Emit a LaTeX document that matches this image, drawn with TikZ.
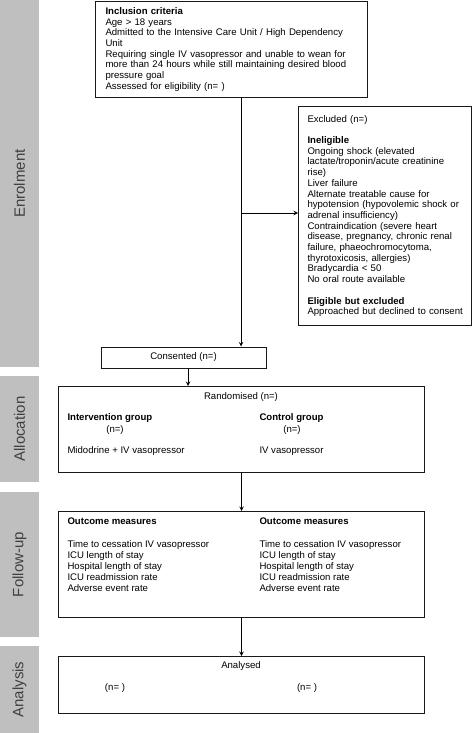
\documentclass[tikz,border=0pt]{standalone}
\usepackage{fontspec}
\setmainfont{Liberation Sans}
\usetikzlibrary{arrows, positioning}

\begin{document}
\begin{tikzpicture}[
        > = stealth, % arrow head style
        x = 1pt, y = -1pt, % one unit per pixel, y runs downwards
        line width = 1pt, % line style
        font = \fontsize{9.6}{10.7}\selectfont
    ]

    \tikzstyle{phase}=[
        fill = gray!50,
        text = black!75,
        rotate = 90,
        minimum height = 39pt,
        inner sep = 0pt,
        font = \fontsize{15}{16}\selectfont
    ]
    \tikzstyle{box}=[
        draw = black!90,
        rectangle,
        inner sep = 0pt
    ]
    \tikzstyle{txt}=[
        inner sep = 0pt,
        align = left
    ]

    \useasboundingbox (0,0) rectangle (473,733);

    % phase bars on the left
    \node[phase, minimum width = 367pt] (enrolbar) at (19.5,183.5) {Enrolment};
    \node[phase, minimum width = 106pt] (allocbar) at (19.5,429) {Allocation};
    \node[phase, minimum width = 145pt] (followbar) at (19.5,564.5) {Follow-up};
    \node[phase, minimum width = 87pt] (analbar) at (19.5,689.5) {Analysis};

    % enrolment
    \node[box, anchor = north west, text width = 252pt, inner xsep = 10pt,
          inner ysep = 6pt, align = left] (incl) at (95,1) {%
        \textbf{Inclusion criteria}\\
        Age > 18 years\\
        Admitted to the Intensive Care Unit / High Dependency\\
        Unit\\
        Requiring single IV vasopressor and unable to wean for\\
        more than 24 hours while still maintaining desired blood\\
        pressure goal\\
        Assessed for eligibility (n= )};

    \node[box, anchor = north west, text width = 155pt, inner xsep = 9pt,
          inner ysep = 7pt, minimum height = 219pt, align = left] (excl) at (298,106) {%
        Excluded (n=)\\[10.7pt]
        \textbf{Ineligible}\\
        Ongoing shock (elevated\\
        lactate/troponin/acute creatinine\\
        rise)\\
        Liver failure\\
        Alternate treatable cause for\\
        hypotension (hypovolemic shock or\\
        adrenal insufficiency)\\
        Contraindication (severe heart\\
        disease, pregnancy, chronic renal\\
        failure, phaeochromocytoma,\\
        thyrotoxicosis, allergies)\\
        Bradycardia < 50\\
        No oral route available\\[10.7pt]
        \textbf{Eligible but excluded}\\
        \mbox{Approached but declined to consent}};

    \node[box, minimum width = 165pt, minimum height = 21pt] (consent) at (183.5,357.5) {Consented (n=)};

    % allocation
    \node[box, anchor = north west, minimum width = 366pt, minimum height = 86pt] (rand) at (58,386) {};
    \node[txt] (randlbl) at (241,397) {Randomised (n=)};
    \node[txt, anchor = west] (intgrp) at (67,418) {\textbf{Intervention group}};
    \node[txt] (intn) at (115,430) {(n=)};
    \node[txt, anchor = west] (inttx) at (67,451) {Midodrine + IV vasopressor};
    \node[txt, anchor = west] (congrp) at (259,418) {\textbf{Control group}};
    \node[txt] (conn) at (292,430) {(n=)};
    \node[txt, anchor = west] (contx) at (259,451) {IV vasopressor};

    % follow-up
    \node[box, anchor = north west, minimum width = 366pt, minimum height = 106pt] (fu) at (58,511) {};
    \node[txt, anchor = north west, font = \fontsize{9.6}{11.2}\selectfont] (fuint) at (67,517.5) {%
        \textbf{Outcome measures}\\[11.2pt]
        Time to cessation IV vasopressor\\
        ICU length of stay\\
        Hospital length of stay\\
        ICU readmission rate\\
        Adverse event rate};
    \node[txt, anchor = north west, font = \fontsize{9.6}{11.2}\selectfont] (fucon) at (259,517.5) {%
        \textbf{Outcome measures}\\[11.2pt]
        Time to cessation IV vasopressor\\
        ICU length of stay\\
        Hospital length of stay\\
        ICU readmission rate\\
        Adverse event rate};

    % analysis
    \node[box, anchor = north west, minimum width = 366pt, minimum height = 57pt] (ana) at (58,656) {};
    \node[txt] (analbl) at (241,666) {Analysed};
    \node[txt] (anaint) at (115,688) {(n= )};
    \node[txt] (anacon) at (307,688) {(n= )};

    % connectors
    \coordinate (split) at (241,213);
    \draw (incl.south -| split) -- (split);
    \draw[->] (split) -- (split -| excl.west);
    \draw[->] (split) -- (split |- consent.north);
    \draw[->] ([xshift=4.5pt]consent.south) -- ([xshift=4.5pt]consent.south |- rand.north);
    \draw[->] (rand.south) -- (fu.north);
    \draw[->] (fu.south) -- (ana.north);

\end{tikzpicture}
\end{document}
